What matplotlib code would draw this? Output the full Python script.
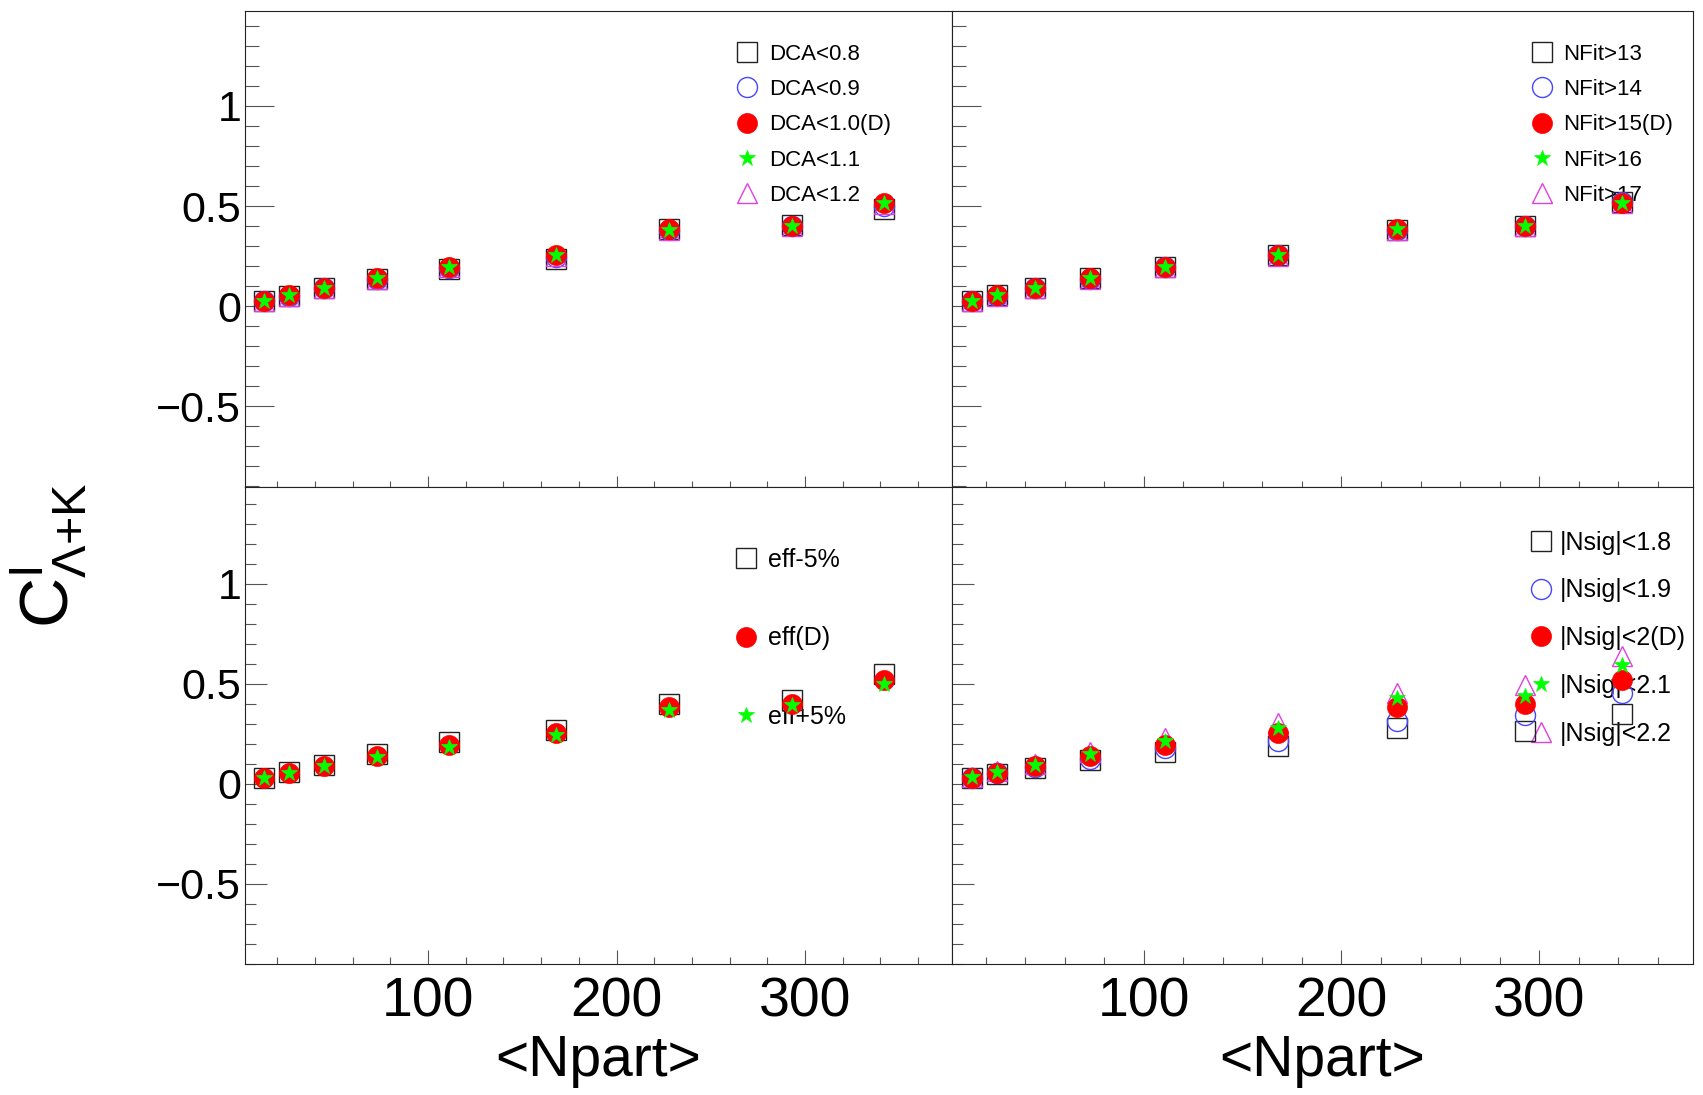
import numpy as np
import matplotlib.pyplot as plt
from matplotlib.ticker import MultipleLocator, FuncFormatter

plt.rcParams['font.family'] = ['Liberation Sans', 'DejaVu Sans']
plt.rcParams['mathtext.fontset'] = 'custom'
plt.rcParams['mathtext.rm'] = 'Liberation Sans'
plt.rcParams['mathtext.it'] = 'Liberation Sans:italic'
plt.rcParams['axes.unicode_minus'] = True

# ------------------------------------------------------------------
# centrality bins (mean number of participants)
# ------------------------------------------------------------------
npart = [13, 26, 45, 73, 111, 168, 228, 293, 342]

# default cuts
c_default = [0.027, 0.054, 0.091, 0.139, 0.196, 0.254, 0.383, 0.401, 0.517]

# DCA variations
dca_08 = [0.027, 0.053, 0.090, 0.137, 0.188, 0.238, 0.386, 0.405, 0.487]
dca_09 = [0.026, 0.052, 0.089, 0.136, 0.191, 0.248, 0.380, 0.398, 0.500]
dca_11 = [0.027, 0.054, 0.091, 0.139, 0.196, 0.254, 0.382, 0.401, 0.517]
dca_12 = [0.025, 0.052, 0.089, 0.137, 0.194, 0.252, 0.380, 0.399, 0.512]

# NFit variations
nfit_13 = [0.027, 0.054, 0.091, 0.139, 0.197, 0.256, 0.381, 0.401, 0.520]
nfit_14 = [0.026, 0.053, 0.090, 0.138, 0.196, 0.254, 0.380, 0.399, 0.518]
nfit_16 = [0.027, 0.054, 0.091, 0.139, 0.196, 0.254, 0.383, 0.401, 0.517]
nfit_17 = [0.025, 0.052, 0.089, 0.137, 0.194, 0.252, 0.380, 0.398, 0.514]

# efficiency variations
eff_m5 = [0.028, 0.058, 0.096, 0.148, 0.208, 0.268, 0.398, 0.420, 0.548]
eff_p5 = [0.029, 0.055, 0.088, 0.135, 0.186, 0.246, 0.368, 0.392, 0.497]

# nsigma variations
nsig_18 = [0.028, 0.048, 0.079, 0.120, 0.157, 0.188, 0.277, 0.265, 0.350]
nsig_19 = [0.030, 0.055, 0.085, 0.125, 0.178, 0.212, 0.312, 0.345, 0.454]
nsig_21 = [0.033, 0.060, 0.095, 0.150, 0.215, 0.278, 0.428, 0.437, 0.596]
nsig_22 = [0.035, 0.065, 0.098, 0.157, 0.228, 0.303, 0.453, 0.495, 0.640]

# marker styles: square, open circle, default, star, triangle
sty_sq = dict(marker='s', mfc='none', mec='#222222', mew=1.0, ms=14.4, zorder=2)
sty_ci = dict(marker='o', mfc='none', mec='#4646ff', mew=1.0, ms=14.4, zorder=3)
sty_tr = dict(marker='^', mfc='none', mec='#e040e0', mew=1.0, ms=14.4, zorder=4)
sty_d = dict(marker='o', mfc='#ff0000', mec='#ff0000', mew=0.5, ms=14.4, zorder=5)
sty_st = dict(marker='*', mfc='#00ff00', mec='#00ff00', mew=0.5, ms=12, zorder=6)

W, H = 1703, 1095
fig = plt.figure(figsize=(W / 100, H / 100), dpi=100)

x_l, x_m, x_r = 245.3, 952.0, 1693.3
y_t, y_m, y_b = 10.7, 486.7, 963.7


def pad_axes(x0, x1, yt, yb):
    return fig.add_axes([x0 / W, 1 - yb / H, (x1 - x0) / W, (yb - yt) / H])


ax_tl = pad_axes(x_l, x_m, y_t, y_m)
ax_tr = pad_axes(x_m, x_r, y_t, y_m)
ax_bl = pad_axes(x_l, x_m, y_m, y_b)
ax_br = pad_axes(x_m, x_r, y_m, y_b)

fmt = FuncFormatter(lambda v, p: f'{v:g}'.replace('-', '\u2212'))

for ax, top in [(ax_tl, True), (ax_tr, True), (ax_bl, False), (ax_br, False)]:
    ax.set_xlim(3, 378)
    if top:
        ax.set_ylim(-0.902, 1.476)
    else:
        ax.set_ylim(-0.9, 1.486)
    ax.xaxis.set_major_locator(MultipleLocator(100))
    ax.xaxis.set_minor_locator(MultipleLocator(20))
    ax.yaxis.set_major_locator(MultipleLocator(0.5))
    ax.yaxis.set_minor_locator(MultipleLocator(0.1))
    ax.yaxis.set_major_formatter(fmt)
    for s in ax.spines.values():
        s.set_linewidth(0.8)
        s.set_color('#222222')
    ylen = (20.7, 10.4) if top else (15.6, 7.8)
    xlen = (8.0, 4.1) if top else (10.3, 5.0)
    ax.tick_params(axis='y', which='major', direction='in', length=ylen[0],
                   width=0.8, color='#555555', labelsize=31, pad=3)
    ax.tick_params(axis='y', which='minor', direction='in', length=ylen[1],
                   width=0.8, color='#555555')
    ax.tick_params(axis='x', which='major', direction='in', length=xlen[0],
                   width=0.8, color='#555555', labelsize=40, pad=9)
    ax.tick_params(axis='x', which='minor', direction='in', length=xlen[1],
                   width=0.8, color='#555555')
    if top:
        ax.tick_params(axis='x', labelbottom=False)
    else:
        ax.set_xlabel('<Npart>', fontsize=41, labelpad=4)

for ax in (ax_tr, ax_br):
    ax.tick_params(axis='y', labelleft=False)


def draw_set(ax, series):
    handles = []
    for vals, sty, lab in series:
        h, = ax.plot(npart, vals, linestyle='none', label=lab, **sty)
        handles.append(h)
    return handles


h_tl = draw_set(ax_tl, [(dca_08, sty_sq, 'DCA<0.8'), (dca_09, sty_ci, 'DCA<0.9'),
                        (dca_12, sty_tr, 'DCA<1.2'), (c_default, sty_d, 'DCA<1.0(D)'),
                        (dca_11, sty_st, 'DCA<1.1')])
h_tr = draw_set(ax_tr, [(nfit_13, sty_sq, 'NFit>13'), (nfit_14, sty_ci, 'NFit>14'),
                        (nfit_17, sty_tr, 'NFit>17'), (c_default, sty_d, 'NFit>15(D)'),
                        (nfit_16, sty_st, 'NFit>16')])
h_bl = draw_set(ax_bl, [(eff_m5, sty_sq, 'eff-5%'), (c_default, sty_d, 'eff(D)'),
                        (eff_p5, sty_st, 'eff+5%')])
h_br = draw_set(ax_br, [(nsig_18, sty_sq, '|Nsig|<1.8'), (nsig_19, sty_ci, '|Nsig|<1.9'),
                        (nsig_22, sty_tr, '|Nsig|<2.2'), (c_default, sty_d, '|Nsig|<2(D)'),
                        (nsig_21, sty_st, '|Nsig|<2.1')])


def add_legend(ax, handles, order, anchor, fs, spacing, textpad):
    hs = [handles[i] for i in order]
    leg = ax.legend(hs, [h.get_label() for h in hs], loc='upper left',
                    bbox_to_anchor=anchor, frameon=False, fontsize=fs,
                    labelspacing=spacing, handlelength=1.0, handletextpad=textpad,
                    borderpad=0, borderaxespad=0, numpoints=1)
    leg.set_zorder(1)
    return leg


add_legend(ax_tl, h_tl, [0, 1, 3, 4, 2], (0.6946, 0.930), 16, 0.64, 0.47)
add_legend(ax_tr, h_tr, [0, 1, 3, 4, 2], (0.781, 0.930), 16, 0.64, 0.47)
add_legend(ax_bl, h_bl, [0, 1, 2], (0.691, 0.871), 18, 2.17, 0.38)
add_legend(ax_br, h_br, [0, 1, 3, 4, 2], (0.778, 0.908), 18, 0.95, 0.24)

fig.text(0.0285, 0.4927, r'$\mathrm{C}^{\mathrm{I}}_{\Lambda\mathrm{+K}}$', fontsize=50,
         rotation=90, ha='center', va='center')

fig.savefig('out.png', dpi=100)
